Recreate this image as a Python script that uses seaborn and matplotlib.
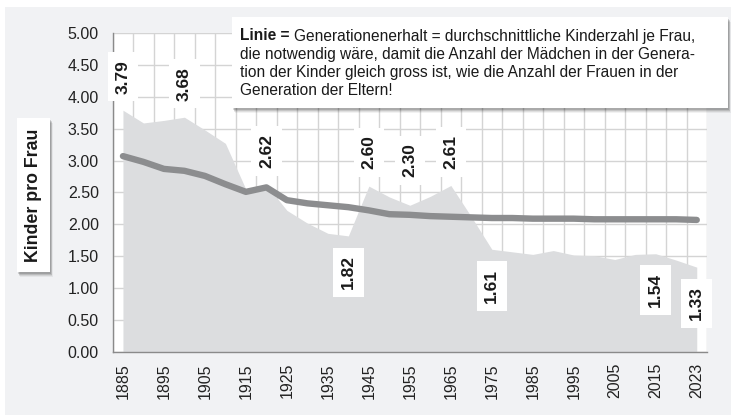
import numpy as np
import matplotlib
matplotlib.use("Agg")
import matplotlib.pyplot as plt
import seaborn as sns
from matplotlib.patches import Rectangle

# Data
years = ["1885", "1890", "1895", "1900", "1905", "1910", "1915", "1920", "1925", "1930",
         "1935", "1940", "1945", "1950", "1955", "1960", "1965", "1970", "1975", "1980",
         "1985", "1990", "1995", "2000", "2005", "2010", "2015", "2020", "2023"]
kinder = [3.79, 3.59, 3.63, 3.68, 3.48, 3.27, 2.55, 2.62, 2.22, 2.02,
          1.86, 1.82, 2.60, 2.43, 2.30, 2.44, 2.61, 2.12, 1.61, 1.57,
          1.53, 1.59, 1.52, 1.51, 1.45, 1.53, 1.54, 1.44, 1.33]
erhalt = [3.07, 2.98, 2.87, 2.84, 2.76, 2.63, 2.51, 2.58, 2.38, 2.33,
          2.30, 2.27, 2.22, 2.16, 2.15, 2.13, 2.12, 2.11, 2.10, 2.10,
          2.09, 2.09, 2.09, 2.08, 2.08, 2.08, 2.08, 2.08, 2.07]
label_years = ["1885", "1900", "1920", "1940", "1945", "1955", "1965", "1975", "2015", "2023"]
label_below = ["1940", "1975", "2015", "2023"]

note_lines = ["Generationenerhalt = durchschnittliche Kinderzahl je Frau,",
              "die notwendig wäre, damit die Anzahl der Mädchen in der Genera-",
              "tion der Kinder gleich gross ist, wie die Anzahl der Frauen in der",
              "Generation der Eltern!"]

sns.set_theme(style="white")
plt.rcParams["font.family"] = ["Liberation Sans", "DejaVu Sans"]

W, H = 731, 415
fig = plt.figure(figsize=(W / 100, H / 100), dpi=100)
fig.patch.set_facecolor("white")


def px(x, y):
    # pixel (from top-left) -> figure fraction
    return x / W, 1 - y / H


def fig_box(x0, y0, x1, y1, shadow=True):
    if shadow:
        for i, a in enumerate([0.05, 0.08, 0.11, 0.14]):
            d = 5 - i
            fx, fy = px(x0 + d * 0.6, y1 + d)
            fig.patches.append(Rectangle((fx, fy), (x1 - x0) / W, (y1 - y0) / H,
                                         transform=fig.transFigure, color="black",
                                         alpha=a, lw=0, zorder=5))
    fx, fy = px(x0, y1)
    fig.patches.append(Rectangle((fx, fy), (x1 - x0) / W, (y1 - y0) / H,
                                 transform=fig.transFigure, color="white", lw=0, zorder=6))


# gray panel background
fig.patches.append(Rectangle(px(5, H), 1, 1 - 7 / H, transform=fig.transFigure,
                             color="#F1F2F4", lw=0, zorder=-10))

ax = fig.add_axes([112.7 / W, 1 - 352 / H, (707 - 112.7) / W, (352 - 33) / H])
ax.set_facecolor("white")

idx = np.arange(len(years))
ax.fill_between(idx, kinder, 0, color="#DCDDDF", lw=0, zorder=2)
sns.lineplot(x=idx, y=erhalt, ax=ax, color="#8C8D8F", lw=4.6, zorder=3,
             solid_capstyle="round", solid_joinstyle="round")

ax.set_xlim(-0.5, len(years) - 0.5)
ax.set_ylim(0, 5)
ax.set_xticks(idx[::2])
ax.set_xticklabels(years[::2], rotation=90, fontsize=11.5, color="#222222")
ax.set_xticks(np.arange(-0.5, len(years), 1), minor=True)
ax.tick_params(axis="x", which="major", length=0, pad=8)
ax.tick_params(axis="x", which="minor", length=5, width=1, color="#8A8A8A", direction="out")
yt = np.arange(0, 5.01, 0.5)
ax.set_yticks(yt)
ax.set_yticklabels([f"{v:.2f}" for v in yt], fontsize=11.5, color="#222222")
ax.tick_params(axis="y", length=6, width=1, color="#8A8A8A", direction="out", pad=4)

ax.grid(True, axis="y", which="major", color="#D4D4D4", lw=1)
ax.grid(True, axis="x", which="minor", color="#D4D4D4", lw=1)
ax.grid(False, axis="x", which="major")
ax.set_axisbelow(True)
for s in ["top", "right"]:
    ax.spines[s].set_visible(False)
for s in ["left", "bottom"]:
    ax.spines[s].set_color("#8A8A8A")
    ax.spines[s].set_linewidth(1)
ax.set_xlabel("")
ax.set_ylabel("")

# value labels
for y in label_years:
    i = years.index(y)
    v = kinder[i]
    if y in label_below:
        off, va = -14, "top"
    else:
        off, va = 12 if y != "1955" else 20, "bottom"
    ax.annotate(f"{v:.2f}", (i, v), xytext=(0, off), textcoords="offset points",
                rotation=90, ha="center", va=va, fontsize=12.5, fontweight="bold",
                color="#1A1A1A", zorder=8,
                bbox=dict(boxstyle="square,pad=0.45", fc="white", ec="none"))

# y label box
fig_box(17, 118, 50, 272)
fig.text(*px(34, 195), "Kinder pro Frau", rotation=90, ha="center", va="center",
         fontsize=12.8, fontweight="bold", color="#1A1A1A", zorder=7)

# note box
fig_box(232, 17, 728, 108)
fig.canvas.draw()
r = fig.canvas.get_renderer()
t0 = fig.text(*px(240, 40.5), "Linie =", fontsize=11.2, fontweight="bold",
              color="#1A1A1A", va="baseline", zorder=7)
ext = t0.get_window_extent(renderer=r)
fig.text(ext.x1 / W + 4 / W, 1 - 40.5 / H, note_lines[0], fontsize=11.2,
         color="#1A1A1A", va="baseline", zorder=7)
for k, line in enumerate(note_lines[1:], start=1):
    fig.text(*px(240, 40.5 + 18.2 * k), line, fontsize=11.2, color="#1A1A1A",
             va="baseline", zorder=7)

fig.savefig("out.png", dpi=100)
